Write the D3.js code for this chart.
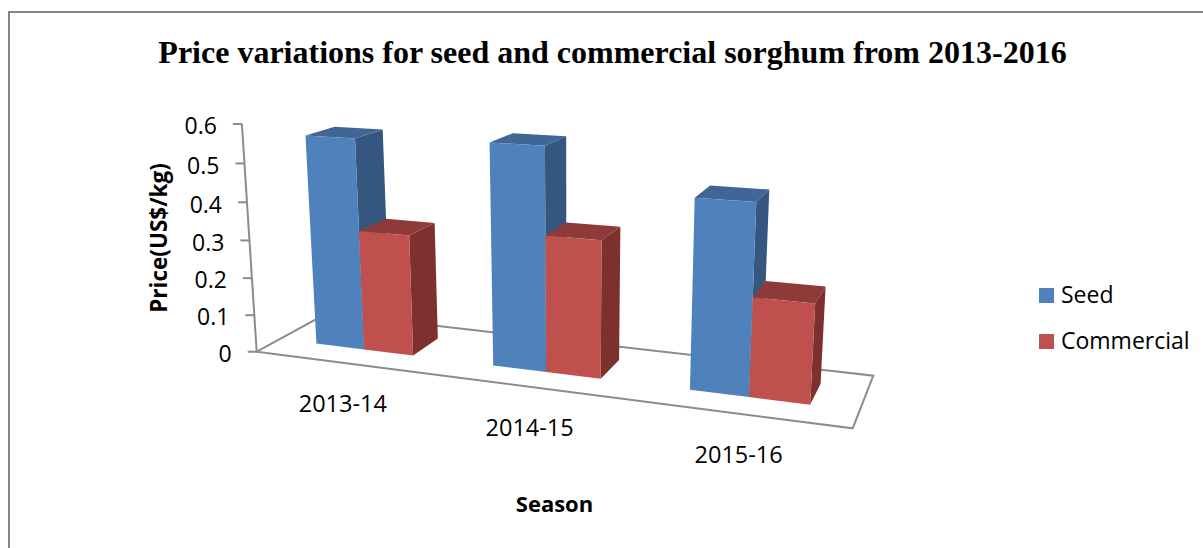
<!DOCTYPE html>
<html>
<head>
<meta charset="utf-8">
<script src="https://cdn.jsdelivr.net/npm/d3@7"></script>
<style>
  body { margin: 0; background: #fff; overflow: hidden; }
  text { fill: #000; font-family: "Open Sans", sans-serif; }
</style>
</head>
<body>
<svg width="1203" height="548"></svg>
<script>
var seasons = ["2013-14", "2014-15", "2015-16"];
var seriesNames = ["Seed", "Commercial"];
var seed = [0.56, 0.57, 0.47];
var commercial = [0.32, 0.35, 0.245];
var yTicks = [0, 0.1, 0.2, 0.3, 0.4, 0.5, 0.6];

var svg = d3.select("svg");

var colours = {
  Seed: {front: "#4f81bd", side: "#34567f", top: "#3f6695"},
  Commercial: {front: "#c0504d", side: "#7d302e", top: "#8e3a38"}
};

// world scales: x along the floor, z into the floor, y up the wall, all 0..1
var x0 = d3.scaleBand().domain(seasons).range([0, 1]).paddingInner(0.44).paddingOuter(0.22);
var x1 = d3.scaleBand().domain(seriesNames).range([0, x0.bandwidth()]);
var y = d3.scaleLinear().domain([0, 0.6]).range([0, 1]);
var barZ = [0.31, 0.72];

// floor corners on screen, and where the verticals meet far below the chart
var fl = [256.7, 351.7], fr = [852.7, 428.3], br = [873.3, 375.7], bl = [327, 313.3];
var vanish = [572, 5200];
var axisTopY = 124;

var dx1 = fr[0] - br[0], dx2 = bl[0] - br[0], sx = fl[0] - fr[0] + br[0] - bl[0];
var dy1 = fr[1] - br[1], dy2 = bl[1] - br[1], sy = fl[1] - fr[1] + br[1] - bl[1];
var det = dx1 * dy2 - dx2 * dy1;
var g = (sx * dy2 - dx2 * sy) / det, h = (dx1 * sy - sx * dy1) / det;
var a = fr[0] - fl[0] + g * fr[0], b = bl[0] - fl[0] + h * bl[0];
var d = fr[1] - fl[1] + g * fr[1], e = bl[1] - fl[1] + h * bl[1];
var up = (axisTopY - fl[1]) / (vanish[1] - axisTopY);

function project(u, v, z) {
  var w = g * u + h * z + 1 + up * v;
  return [(a * u + b * z + fl[0] + up * v * vanish[0]) / w,
          (d * u + e * z + fl[1] + up * v * vanish[1]) / w];
}

var line = d3.line().curve(d3.curveLinearClosed);
var openLine = d3.line();

// title and frame
svg.append("rect")
    .attr("x", 9).attr("y", 12).attr("width", 1300).attr("height", 700)
    .attr("fill", "none").attr("stroke", "#868686").attr("stroke-width", 2);

svg.append("text")
    .attr("x", 612.5).attr("y", 63)
    .attr("text-anchor", "middle")
    .style("font-family", "'Liberation Serif', serif")
    .style("font-weight", "bold")
    .style("font-size", "32px")
    .text("Price variations for seed and commercial sorghum from 2013-2016");

// floor and value axis
svg.append("path")
    .attr("d", line([project(0, 0, 0), project(1, 0, 0), project(1, 0, 1), project(0, 0, 1)]))
    .attr("fill", "none").attr("stroke", "#8c8c8c").attr("stroke-width", 2);

svg.append("path")
    .attr("d", openLine([project(0, 0, 0), project(0, y(0.6), 0)]))
    .attr("fill", "none").attr("stroke", "#8c8c8c").attr("stroke-width", 2);

var tick = svg.append("g").selectAll("g")
    .data(yTicks)
  .enter().append("g")
    .attr("transform", function(t) {
      var p = project(0, y(t), 0);
      return "translate(" + p[0] + "," + p[1] + ")";
    });

tick.append("line")
    .attr("x1", -9).attr("x2", 0)
    .attr("stroke", "#8c8c8c").attr("stroke-width", 2);

tick.append("text")
    .attr("x", -25).attr("y", 2).attr("dy", "0.36em")
    .attr("text-anchor", "end")
    .style("font-size", "23px")
    .text(function(t) { return t; });

// bars, back faces first
seasons.forEach(function(season, i) {
  seriesNames.forEach(function(name) {
    var value = (name === "Seed" ? seed : commercial)[i];
    var u0 = x0(season) + x1(name), u1 = u0 + x1.bandwidth(), v = y(value);
    var faces = [
      {fill: colours[name].side, pts: [project(u1, 0, barZ[0]), project(u1, 0, barZ[1]), project(u1, v, barZ[1]), project(u1, v, barZ[0])]},
      {fill: colours[name].top, pts: [project(u0, v, barZ[0]), project(u1, v, barZ[0]), project(u1, v, barZ[1]), project(u0, v, barZ[1])]},
      {fill: colours[name].front, pts: [project(u0, 0, barZ[0]), project(u1, 0, barZ[0]), project(u1, v, barZ[0]), project(u0, v, barZ[0])]}
    ];
    svg.append("g").selectAll("path")
        .data(faces)
      .enter().append("path")
        .attr("d", function(f) { return line(f.pts); })
        .attr("fill", function(f) { return f.fill; });
  });
});

// category labels sit below the front edge of the floor
svg.append("g").selectAll("text")
    .data(seasons)
  .enter().append("text")
    .attr("x", function(s) { return project(x0(s) + x0.bandwidth() / 2, 0, 0)[0]; })
    .attr("y", function(s) { return project(x0(s) + x0.bandwidth() / 2, 0, 0)[1] + 49; })
    .attr("text-anchor", "middle")
    .style("font-size", "23.5px")
    .text(function(s) { return s; });

svg.append("text")
    .attr("transform", "translate(167,238) rotate(-90)")
    .attr("text-anchor", "middle")
    .style("font-size", "22.5px")
    .style("font-weight", "bold")
    .text("Price(US$/kg)");

svg.append("text")
    .attr("x", 554.5).attr("y", 512)
    .attr("text-anchor", "middle")
    .style("font-size", "22px")
    .style("font-weight", "bold")
    .text("Season");

// legend
var legend = svg.append("g").selectAll("g")
    .data(seriesNames)
  .enter().append("g")
    .attr("transform", function(n, i) { return "translate(1039," + (288 + i * 46) + ")"; });

legend.append("rect")
    .attr("width", 15).attr("height", 15)
    .attr("fill", function(n) { return colours[n].front; });

legend.append("text")
    .attr("x", 22).attr("y", 15)
    .style("font-size", "23px")
    .text(function(n) { return n; });
</script>
</body>
</html>
